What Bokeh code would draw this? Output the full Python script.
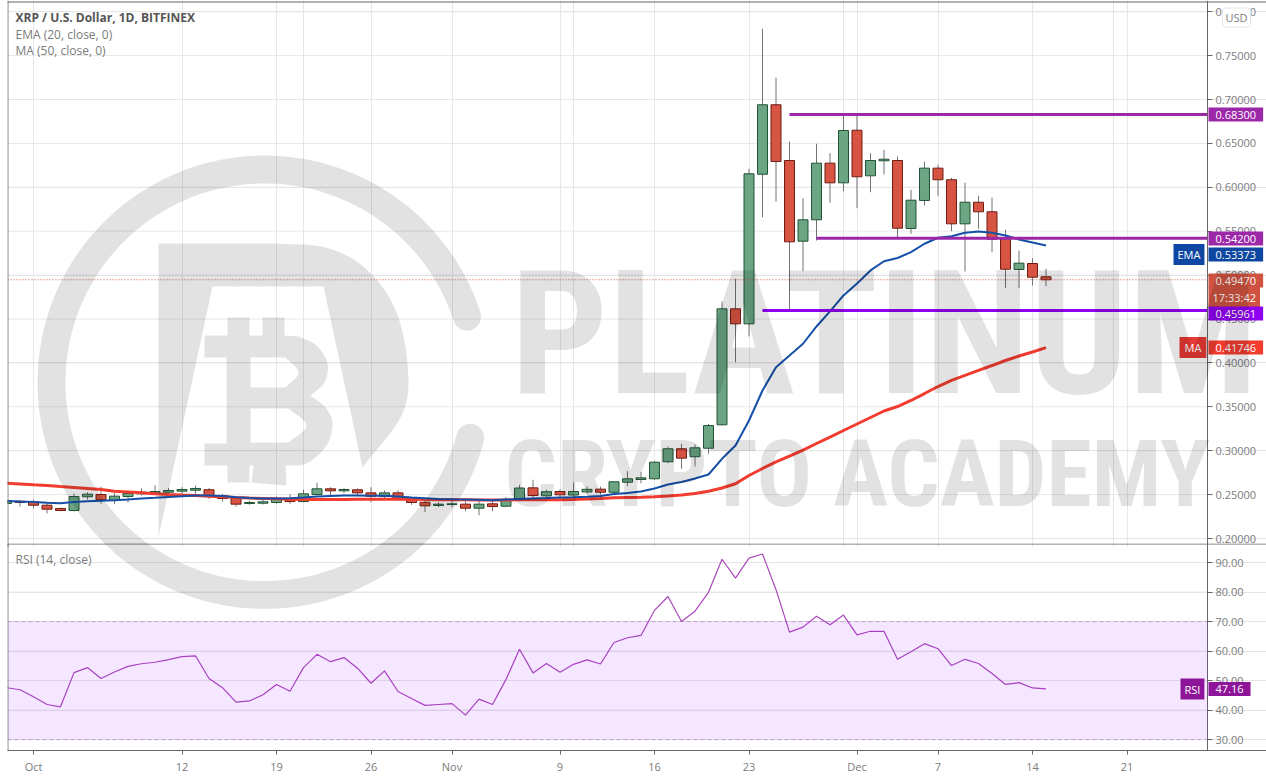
from math import radians
import numpy as np
from bokeh.embed import file_html
from bokeh.layouts import column
from bokeh.models import (BoxAnnotation, ColumnDataSource, FixedTicker, Grid, Label, LinearAxis,
                          NumeralTickFormatter, Range1d, Span)
from bokeh.plotting import figure
from bokeh.resources import INLINE

days = list(range(-2, 76))
open_ = [.2399,.2425,.2418,.2379,.2342,.2319,.2475,.2501,.2436,.2478,.2509,.2520,.2527,.2539,.2550,.2555,.2490,.2459,.2399,.2402,.2410,.2456,.2421,.2501,.2566,.2543,.2555,.2520,.2478,.2520,.2448,.2413,.2376,.2387,.2391,.2345,.2395,.2368,.2444,.2577,.2486,.2535,.2495,.2530,.2562,.2527,.2641,.2672,.2680,.2874,.3022,.2931,.3028,.3295,.4616,.4445,.6149,.6940,.6305,.5386,.5630,.6275,.6051,.6650,.6131,.6302,.6305,.5531,.5850,.6218,.6086,.5584,.5830,.5721,.5413,.5064,.5132,.4981]
close = [.2429,.2410,.2379,.2334,.2319,.2478,.2505,.2441,.2482,.2513,.2527,.2535,.2547,.2558,.2570,.2490,.2456,.2391,.2410,.2418,.2448,.2421,.2509,.2566,.2543,.2558,.2520,.2482,.2520,.2448,.2410,.2372,.2391,.2395,.2345,.2391,.2364,.2444,.2575,.2490,.2533,.2498,.2535,.2560,.2527,.2646,.2680,.2691,.2869,.3022,.2915,.3033,.3287,.4616,.4445,.6154,.6940,.6294,.5379,.5630,.6275,.6051,.6647,.6120,.6305,.6320,.5534,.5853,.6218,.6086,.5584,.5830,.5721,.5409,.5067,.5136,.4976,.4947]
high = [.2456,.2433,.2444,.2399,.2350,.2513,.2527,.2592,.2516,.2527,.2570,.2604,.2577,.2584,.2604,.2577,.2509,.2478,.2429,.2441,.2478,.2505,.2555,.2634,.2584,.2573,.2570,.2584,.2547,.2547,.2470,.2452,.2413,.2425,.2425,.2425,.2425,.2470,.2612,.2669,.2555,.2558,.2638,.2592,.2592,.2649,.2767,.2755,.2880,.3048,.3079,.3071,.3306,.4699,.4958,.6211,.7805,.7247,.6522,.5876,.6496,.6389,.6818,.6830,.6389,.6427,.6351,.5972,.6291,.6257,.6108,.6051,.5903,.5881,.5516,.5280,.5192,.5072]
low = [.2376,.2364,.2342,.2285,.2311,.2308,.2444,.2395,.2395,.2410,.2490,.2509,.2509,.2490,.2509,.2452,.2421,.2364,.2384,.2387,.2395,.2395,.2413,.2490,.2478,.2516,.2498,.2413,.2459,.2433,.2384,.2300,.2357,.2357,.2311,.2265,.2311,.2357,.2433,.2433,.2470,.2470,.2456,.2509,.2501,.2509,.2596,.2630,.2669,.2858,.2794,.2820,.2965,.3287,.4008,.4301,.5660,.5838,.4597,.5045,.5394,.5824,.5956,.5762,.5944,.6146,.5425,.5470,.5793,.5903,.5500,.5041,.5527,.5261,.4855,.4851,.4882,.4874]
ema20 = [.2427,.2421,.2416,.2407,.2401,.2416,.2424,.2429,.2435,.2444,.2456,.2464,.2473,.2481,.2490,.2490,.2483,.2470,.2461,.2456,.2456,.2459,.2467,.2478,.2484,.2490,.2490,.2486,.2486,.2478,.2467,.2459,.2451,.2446,.2444,.2441,.2437,.2444,.2450,.2456,.2461,.2467,.2470,.2475,.2484,.2507,.2518,.2535,.2570,.2615,.2644,.2683,.2729,.2908,.3059,.3344,.3686,.3951,.4084,.4218,.4415,.4586,.4768,.4904,.5053,.5158,.5195,.5261,.5357,.5425,.5443,.5482,.5497,.5482,.5451,.5406,.5371,.53373]
ma50 = [.2630,.2621,.2612,.2604,.2592,.2581,.2570,.2558,.2539,.2530,.2521,.2509,.2501,.2495,.2490,.2482,.2475,.2467,.2460,.2456,.2452,.2448,.2444,.2444,.2444,.2444,.2446,.2448,.2448,.2448,.2446,.2444,.2442,.2441,.2440,.2439,.2439,.2439,.2440,.2441,.2442,.2442,.2444,.2450,.2456,.2464,.2467,.2469,.2475,.2484,.2495,.2513,.2539,.2575,.2623,.2718,.2797,.2872,.2937,.3006,.3082,.3155,.3230,.3304,.3378,.3452,.3503,.3572,.3651,.3731,.3800,.3857,.3914,.3970,.4027,.4079,.4124,.41746]
rsi14 = [47.6,46.9,44.5,41.9,41.1,52.7,54.4,50.7,52.9,54.8,55.7,56.2,57.1,58.1,58.4,50.7,47.6,42.7,43.1,45.2,48.7,46.4,54.4,58.9,56.4,57.8,54.2,49.1,53.3,46.3,43.9,41.6,41.9,42.2,38.3,43.7,41.9,50.4,60.6,52.6,55.8,52.8,55.5,57.0,55.6,62.9,64.5,65.3,73.8,78.5,70.0,73.5,79.9,91.1,84.7,91.5,92.9,80.8,66.4,68.1,71.8,68.9,72.2,65.5,66.7,66.7,57.2,59.8,62.5,60.8,55.1,57.2,55.8,52.4,48.7,49.3,47.5,47.16]

tick_days = [0, 11, 18, 25, 31, 39, 46, 53, 61, 67, 74, 81]
tick_labels = ["Oct", "12", "19", "26", "Nov", "9", "16", "23", "Dec", "7", "14", "21"]
price_ticks = [.20, .25, .30, .35, .40, .45, .50, .55, .60, .65, .70, .75, .80]
rsi_ticks = [30, 40, 50, 60, 70, 80, 90]
levels = [.683, .542, .45961]
level_start = [56, 58, 54]
level_colors = ["#9c27a8", "#9c27a8", "#9000f0"]

FONT = "Open Sans"
GREY = "#7c7c7c"
AXIS = "#666666"
GRID = "#e8e8e8"
COND = "'Roboto Condensed','Noto Sans Condensed','Open Sans Condensed','DejaVu Sans Condensed','Liberation Sans'"

dx = lambda x: (x - 33) / 13.5
py = lambda y: 0.2 + (538 - y) / 878
ry = lambda y: 30 + (741 - y) / 2.98
LEFT, AX, EDGE, SPLIT = 7, 1207, 1266, 543
EXTRA = 4  # the price pane runs under the RSI pane so that its lowest tick label is whole
W = EDGE - LEFT
xr = lambda: Range1d(dx(LEFT), dx(EDGE))


def style(p, fy, ticks, fmt):
    p.outline_line_color = None
    p.min_border_left = p.min_border_top = p.min_border_right = 0
    ax = LinearAxis(fixed_location=dx(AX), ticker=FixedTicker(ticks=ticks),
                    formatter=NumeralTickFormatter(format=fmt),
                    major_tick_in=0, major_tick_out=5, minor_tick_in=0, minor_tick_out=0,
                    major_label_standoff=3, axis_line_color=AXIS, major_tick_line_color=AXIS,
                    major_label_text_color=GREY, major_label_text_font=FONT,
                    major_label_text_font_size="11px")
    p.add_layout(ax, "right")
    p.add_layout(Grid(dimension=0, ticker=FixedTicker(ticks=tick_days), grid_line_color=GRID))
    p.segment([dx(LEFT)] * len(ticks), ticks, [dx(AX)] * len(ticks), ticks,
              line_color=GRID, line_width=1, level="underlay")


def tag(p, fy, x, y, text, bg, pad=(7, 3), fg="#ffffff"):
    p.add_layout(Label(x=dx(x), y=fy(y), text=text, text_font=FONT, text_font_size="11px",
                       text_color=fg, text_baseline="middle", text_align="left",
                       background_fill_color=bg, padding=pad))


def caption(p, fy, y, text, color=GREY, bold=False):
    p.add_layout(Label(x=dx(15), y=fy(y), text=text, text_font=FONT, text_font_size="12px",
                       text_color=color, text_baseline="middle",
                       text_font_style="bold" if bold else "normal"))


def smooth(pts, n=8):
    pts = np.array(pts, dtype=float)
    ext = np.vstack([2 * pts[0] - pts[1], pts, 2 * pts[-1] - pts[-2]])
    out = []
    for i in range(1, len(ext) - 2):
        p0, p1, p2, p3 = ext[i - 1], ext[i], ext[i + 1], ext[i + 2]
        for t in np.linspace(0, 1, n, endpoint=False):
            out.append(tuple(0.5 * (2 * p1 + (p2 - p0) * t + (2 * p0 - 5 * p1 + 4 * p2 - p3) * t ** 2
                                    + (3 * p1 - p0 - 3 * p2 + p3) * t ** 3)))
    out.append(tuple(pts[-1]))
    return out


def watermark(p, fy):
    c = dict(fill_color="black", fill_alpha=0.115, line_color=None, level="overlay")
    cx, cy, rm, rc = 264, 382, 213, 14
    a0, a1 = radians(18), radians(345)
    t = np.linspace(a0, a1, 320)
    ox = cx + (rm + rc) * np.cos(t)
    oy = cy - (rm + rc) * np.sin(t)
    ix = cx + (rm - rc) * np.cos(t[::-1])
    iy = cy - (rm - rc) * np.sin(t[::-1])
    u = np.linspace(0, np.pi, 14)
    ce = (cx + rm * np.cos(a1), cy - rm * np.sin(a1))
    cs = (cx + rm * np.cos(a0), cy - rm * np.sin(a0))
    cap1x = ce[0] + rc * np.cos(a1 + u)
    cap1y = ce[1] - rc * np.sin(a1 + u)
    cap2x = cs[0] + rc * np.cos(a0 + np.pi + u)
    cap2y = cs[1] - rc * np.sin(a0 + np.pi + u)
    rx = np.concatenate([ox, cap1x, ix, cap2x])
    ryy = np.concatenate([oy, cap1y, iy, cap2y])
    p.patch([dx(v) for v in rx], [fy(v) for v in ryy], **c)
    d = [(158, 243)] + smooth([(276, 243), (325, 247), (364, 267), (394, 307), (407, 363),
                               (402, 413), (362, 467)]) + [(323, 286), (212, 286), (158, 537)]
    p.patch([dx(a) for a, b in d], [fy(b) for a, b in d], **c)
    b_out = ([(227, 317), (249, 317), (249, 335), (262, 335), (262, 317), (284, 317), (284, 335)]
             + smooth([(298, 336), (316, 345), (327, 363), (324, 382), (310, 395)])
             + smooth([(310, 395), (325, 407), (332, 423), (326, 445), (306, 463), (285, 465)])
             + [(286, 485), (251, 482), (253, 465), (249, 465), (249, 482), (227, 482), (227, 465),
                (204, 465), (204, 443), (226, 443), (226, 357), (204, 357), (204, 335), (227, 335)])
    h1 = [(250, 357)] + smooth([(285, 357), (298, 372), (285, 387)]) + [(250, 387)]
    h2 = [(250, 408)] + smooth([(288, 408), (306, 425), (288, 442)]) + [(250, 442)]
    rings = [b_out, h1, h2]
    p.multi_polygons([[[[dx(a) for a, b in r] for r in rings]]],
                     [[[[fy(b) for a, b in r] for r in rings]]], **c)


# ---------- price pane ----------
p = figure(width=W, height=SPLIT + EXTRA, x_range=xr(), y_range=Range1d(py(SPLIT + EXTRA), py(0)),
           y_axis_location=None, x_axis_location=None, toolbar_location=None,
           output_backend="svg", tools="")
style(p, py, price_ticks, "0.00000")
p.background_fill_color = "white"
p.min_border_bottom = 0

up = [c >= o for o, c in zip(open_, close)]
src = ColumnDataSource(dict(
    d=days, high=high, low=low,
    top=[max(o, c) for o, c in zip(open_, close)],
    bottom=[min(o, c) for o, c in zip(open_, close)],
    fill=["#6ba583" if u else "#d75442" for u in up],
    edge=["#225437" if u else "#6f1d13" for u in up]))
p.segment("d", "high", "d", "low", source=src, line_color="#737375", line_width=1)
p.vbar("d", 0.74, "top", "bottom", source=src, fill_color="fill", line_color="edge", line_width=1)
p.line(days, ma50, line_color="#f23c30", line_width=3)
p.line(days, ema20, line_color="#1450a8", line_width=2)
p.segment([dx(LEFT)], [close[-1]], [dx(AX)], [close[-1]], line_color="#d75442",
          line_dash="1 2", line_width=1)
for lv, st, col in zip(levels, level_start, level_colors):
    p.segment([st], [lv], [dx(AX)], [lv], line_color=col, line_width=3)

caption(p, py, 17, "XRP / U.S. Dollar, 1D, BITFINEX", "#555555", True)
caption(p, py, 34, "EMA (20, close, 0)")
caption(p, py, 50, "MA (50, close, 0)")

VAL = 1208
tag(p, py, VAL, 114, "0.68300", "#9c27a8")
tag(p, py, VAL, 238, "0.54200", "#9c27a8")
tag(p, py, VAL, 254, "0.53373", "#0d47a1")
tag(p, py, 1173, 254, "EMA", "#0d47a1", pad=(4, 3))
tag(p, py, VAL, 280, "0.49470", "#cf5340")
tag(p, py, VAL, 297, "17:33:42", "#cf5340", pad=(4, 3))
tag(p, py, VAL, 313, "0.45961", "#9000f0")
tag(p, py, VAL, 347, "0.41746", "#f23c30")
tag(p, py, 1179, 347, "MA", "#e53935", pad=(5, 3))
p.add_layout(Label(x=dx(1222), y=py(17), text="USD", text_font=FONT, text_font_size="11px",
                   text_color=GREY, text_baseline="middle", background_fill_color="white",
                   border_line_color="#e4e4e4", border_radius=3, padding=(3, 2)))

watermark(p, lambda y: py(min(y, SPLIT)))
mark = dict(text_font=COND, text_font_style="bold", text_color="black",
            text_alpha=0.115, text_baseline="alphabetic", level="overlay")
p.add_layout(Label(x=dx(510), y=py(333), text="PLATINUM", text_font_size="172px", **mark))
p.add_layout(Label(x=dx(504), y=py(474), text="CRYPTO ACADEMY", text_font_size="92px", **mark))

# ---------- RSI pane ----------
q = figure(width=W, height=233, x_range=xr(), y_range=Range1d(ry(752), ry(SPLIT)),
           y_axis_location=None, toolbar_location=None, output_backend="svg", tools="",
           margin=(-EXTRA, 0, 0, 0))
style(q, ry, rsi_ticks, "0.00")
q.background_fill_color = None
q.border_fill_color = None
q.min_border_bottom = 24
q.xaxis[0].ticker = FixedTicker(ticks=tick_days)
q.xaxis[0].major_label_overrides = dict(zip(tick_days, tick_labels))
q.xaxis[0].axis_line_color = AXIS
q.xaxis[0].major_tick_line_color = AXIS
q.xaxis[0].major_tick_in = 0
q.xaxis[0].major_tick_out = 4
q.xaxis[0].minor_tick_in = 0
q.xaxis[0].minor_tick_out = 0
q.xaxis[0].major_label_standoff = 4
q.xaxis[0].major_label_text_color = GREY
q.xaxis[0].major_label_text_font = FONT
q.xaxis[0].major_label_text_font_size = "11px"
q.xgrid.visible = False

q.add_layout(BoxAnnotation(left=dx(LEFT), right=dx(AX), bottom=30, top=70,
                           fill_color="#9915ff", fill_alpha=0.1, line_color=None))
q.segment([dx(LEFT)] * 2, [30, 70], [dx(AX)] * 2, [30, 70], line_color="#c4a7d0",
          line_dash="4 3", line_width=1)
q.line(days, rsi14, line_color="#ab47bc", line_width=1.2)
caption(q, ry, 559, "RSI (14, close)")
tag(q, ry, VAL, 690, "47.16", "#8e1599", pad=(7, 3))
tag(q, ry, 1180, 690, "RSI", "#8e1599", pad=(4, 3))
watermark(q, ry)

# frame lines
p.add_layout(Span(location=dx(LEFT) + 0.03, dimension="height", line_color=AXIS, line_width=1))
q.add_layout(Span(location=dx(LEFT) + 0.03, dimension="height", line_color=AXIS, line_width=1))
p.add_layout(Span(location=py(1.5), dimension="width", line_color=AXIS, line_width=1))
q.add_layout(Span(location=ry(SPLIT + 0.5), dimension="width", line_color=AXIS, line_width=1))

page = column(p, q, spacing=0, margin=(0, 0, 0, 7))
open("out.html", "w").write(file_html(page, INLINE))
